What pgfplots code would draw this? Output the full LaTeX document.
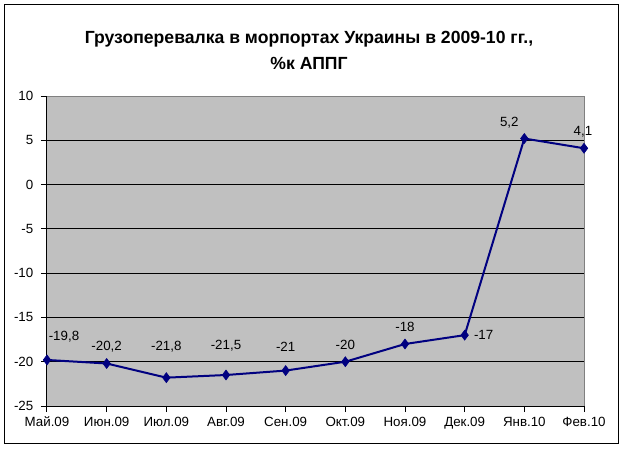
\documentclass[border=0pt]{standalone}
\usepackage{pgfplots}
\pgfplotsset{compat=1.18}
\usepackage{pgfplotstable}
\usepackage{fontspec}
\setmainfont{Liberation Sans}

\definecolor{plotgray}{HTML}{C0C0C0}
\definecolor{bordergray}{HTML}{808080}
\definecolor{navyline}{HTML}{000080}

% values, label text, label offset from the point (px)
\pgfplotstableread{
x y label dx dy
0 -19.8 -19,8 17 23
1 -20.2 -20,2 0 16.5
2 -21.8 -21,8 0 30.5
3 -21.5 -21,5 0 29
4 -21 -21 0 24
5 -20 -20 0 17
6 -18 -18 0 17
7 -17 -17 19 0
8 5.2 5,2 -15 16
9 4.1 4,1 -1 16
}\datatable

\begin{document}
\begin{tikzpicture}
\path[use as bounding box] (-35.25pt,-33pt) rectangle (432pt,304.5pt);
\begin{axis}[
    at={(0,0)}, anchor=south west,
    scale only axis,
    width=402.75pt, height=232.5pt,
    xmin=0, xmax=9, ymin=-25, ymax=10,
    xtick={0,...,9},
    xticklabels={Май.09,Июн.09,Июл.09,Авг.09,Сен.09,Окт.09,Ноя.09,Дек.09,Янв.10,Фев.10},
    ytick={-25,-20,...,10},
    yticklabels={-25,-20,-15,-10,-5,0,5,10},
    extra y ticks={-20,-15,-10,-5,0,5},
    extra y tick labels={},
    extra y tick style={grid=major, major tick length=0pt},
    major grid style={black, line width=0.75pt},
    axis x line*=bottom, axis y line*=left,
    axis line style={-, black, line width=0.75pt},
    axis background/.style={fill=plotgray, draw=bordergray, line width=0.75pt},
    tick align=outside,
    major tick length=4.5pt,
    tick style={black, line width=0.75pt},
    ticklabel style={font=\fontsize{10}{12}\selectfont},
    yticklabel style={xshift=-2.25pt},
    clip=false,
]
\addplot[navyline, line width=1.5pt, mark=diamond*, mark size=3.7pt,
    mark options={fill=navyline, line width=0.5pt},
    nodes near coords,
    point meta=explicit symbolic,
    visualization depends on={\thisrow{dx}\as\dx},
    visualization depends on={\thisrow{dy}\as\dy},
    nodes near coords style={anchor=center, black, inner sep=0pt,
        xshift=\dx*0.75pt, yshift=\dy*0.75pt,
        font=\fontsize{10}{12}\selectfont},
] table[x=x, y=y, meta=label] {\datatable};
\end{axis}
\draw[black, line width=0.75pt] (-31.7pt,-27.75pt) rectangle (428.25pt,300.75pt);
\node[align=center, font=\bfseries\fontsize{13.2}{19.5}\selectfont] at (196.5pt,267pt)
    {Грузоперевалка в морпортах Украины в 2009-10 гг.,\\\%к АППГ};
\end{tikzpicture}
\end{document}
